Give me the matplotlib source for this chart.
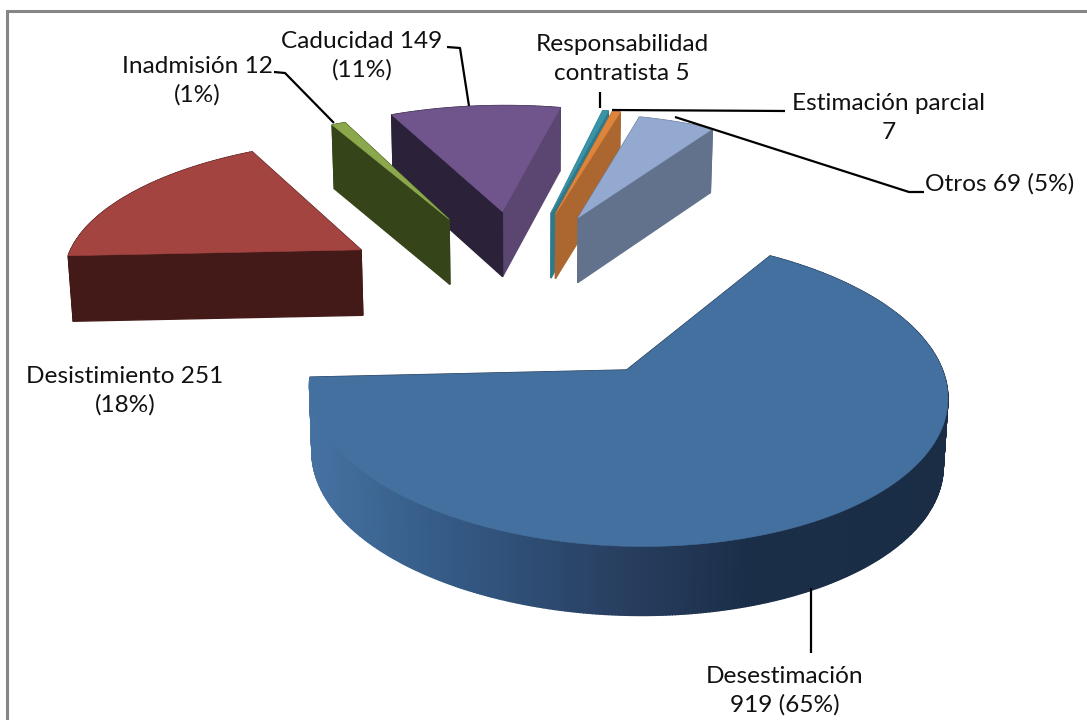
# Se importan librerias necesarias para generar el gráfico
import numpy as np
import matplotlib
matplotlib.use('Agg')
import matplotlib.pyplot as plt

# Datos del gráfico, en orden horario desde el inicio del primer sector
categorias = ['Desestimación', 'Desistimiento', 'Inadmisión', 'Caducidad',
              'Responsabilidad contratista', 'Estimación parcial', 'Otros']
valores = [919, 251, 12, 149, 5, 7, 69]
etiquetas = ['Desestimación\n919 (65%)', 'Desistimiento 251\n(18%)', 'Inadmisión 12\n(1%)',
             'Caducidad 149\n(11%)', 'Responsabilidad\ncontratista 5', 'Estimación parcial\n7',
             'Otros 69 (5%)']

# Colores de cada sector: cara superior, pared inicial, pared final
col_sup = ['#44709F', '#A44441', '#8CA84C', '#70558C', '#3B93A8', '#DE853B', '#93A9CF']
col_ini = ['#1A2D45', '#431A18', '#364419', '#2B2139', '#2E7A8C', '#AB672F', '#62728C']
col_fin = ['#1A2D45', '#431A18', '#364419', '#5A4670', '#2E7A8C', '#AB672F', '#62728C']

# Geometria de la perspectiva, en pixeles de la figura
CX, CY = 525, 290
RX, RY = 295, 131.5
K = 0.13
PROF = 66
ANG0 = 33
EXPL = 0.65
AJUSTE = [-0.004, -0.012, 0.02, -0.008, -0.05, -0.05, -0.072]
RADIO = [0.992, 1.025, 1.05, 1.07, 1.05, 1.05, 1.03]


# Proyecta un punto del plano del pastel a la imagen
def proy(x, y, z=0):
    w = 1 + K * y
    sx = CX + RX * x / w * (1 - 0.011 * z)
    sy = CY - RY * y / w + z * PROF / w ** 0.2
    return sx, sy


# Degradado de la pared exterior del sector grande segun x
def color_borde(sx):
    xs = [307, 450, 600, 750, 947]
    r = np.interp(sx, xs, [0x46, 0x34, 0x2A, 0x1B, 0x1A])
    g = np.interp(sx, xs, [0x72, 0x5A, 0x42, 0x2E, 0x2D])
    b = np.interp(sx, xs, [0xA2, 0x85, 0x65, 0x48, 0x45])
    return (r / 255, g / 255, b / 255)


fig = plt.figure(figsize=(10.87, 7.2), dpi=100)
ax = fig.add_axes([0, 0, 1, 1])
ax.set_xlim(0, 1087)
ax.set_ylim(720, 0)
ax.axis('off')

# Marco gris
ax.plot([7, 7, 1087], [720, 11, 11], color='#868686', lw=2.2, solid_joinstyle='miter')

total = sum(valores)
ang = ANG0
orden = []
for i, v in enumerate(valores):
    barrido = v / total * 360
    ini = np.radians(ang)
    fin = np.radians(ang + barrido)
    med = (ini + fin) / 2
    ax0 = EXPL * np.sin(med) + AJUSTE[i]
    ay0 = EXPL * np.cos(med)
    orden.append((i, ini, fin, ax0, ay0))
    ang += barrido

# Se dibuja de atras hacia adelante
orden.sort(key=lambda s: -s[4])
for i, ini, fin, ax0, ay0 in orden:
    n = max(4, int(np.degrees(fin - ini) * 2))
    t = np.linspace(ini, fin, n + 1)
    bx = ax0 + RADIO[i] * np.sin(t)
    by = ay0 + RADIO[i] * np.cos(t)

    caras = []
    # Paredes radiales
    caras.append((ay0 + np.cos(ini) / 2, [(ax0, ay0), (bx[0], by[0])], col_ini[i]))
    caras.append((ay0 + np.cos(fin) / 2, [(ax0, ay0), (bx[-1], by[-1])], col_fin[i]))
    # Pared exterior por tramos
    for j in range(n):
        sxm = proy((bx[j] + bx[j + 1]) / 2, (by[j] + by[j + 1]) / 2)[0]
        c = color_borde(sxm) if i == 0 else col_ini[i]
        caras.append(((by[j] + by[j + 1]) / 2, [(bx[j], by[j]), (bx[j + 1], by[j + 1])], c))

    caras.sort(key=lambda c: -c[0])
    for _, seg, c in caras:
        a, b = seg
        pts = [proy(a[0], a[1]), proy(b[0], b[1]), proy(b[0], b[1], 1), proy(a[0], a[1], 1)]
        ax.fill([p[0] for p in pts], [p[1] for p in pts], color=c, lw=1.0)

    # Cara superior
    sup = [proy(ax0, ay0)] + [proy(px, py) for px, py in zip(bx, by)]
    ax.fill([p[0] for p in sup], [p[1] for p in sup], color=col_sup[i], lw=0.4)

# Lineas guia de las etiquetas
guias = [([811, 811], [588, 653]),
         ([447, 460, 469], [47, 48, 106]),
         ([274, 285, 334], [72, 73, 123]),
         ([600, 600], [92, 108]),
         ([785, 612], [111, 110]),
         ([924, 909, 675], [192, 192, 117])]
for gx, gy in guias:
    ax.plot(gx, gy, color='black', lw=1.6, solid_capstyle='butt')

# Etiquetas de datos
pos_etq = [(785, 691), (125, 391), (197, 81), (362, 56), (622, 59), (889, 118), (1000, 184)]
for txt, (px, py) in zip(etiquetas, pos_etq):
    ax.text(px, py, txt, ha='center', va='center', fontsize=17.6, family=['Lato', 'DejaVu Sans'],
            color='#111111', linespacing=1.42)

fig.savefig('out.png', dpi=100)
